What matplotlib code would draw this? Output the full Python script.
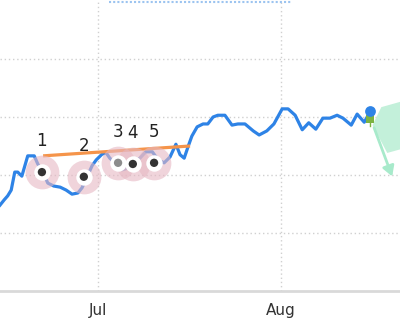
import matplotlib
matplotlib.use("Agg")
import matplotlib.pyplot as plt
from matplotlib.patches import Polygon, FancyArrowPatch

# price series: days since Jul 1 and price
days = [-16.6, -15.9, -15.3, -14.7, -14.1, -13.6, -12.9, -11.9, -10.8, -10.2,
        -9.2, -8.5, -7.5, -6.4, -5.4, -4.4, -3.4, -2.7, -1.7, -1.0,
        -0.3, 0.7, 1.4, 2.0, 3.1, 4.1, 5.1, 6.1, 7.1, 8.1,
        9.2, 10.2, 11.2, 12.2, 13.2, 13.9, 14.6, 15.3, 15.9, 16.8,
        17.8, 18.6, 19.5, 20.3, 21.5, 22.7, 23.7, 24.9, 26.3, 27.3,
        28.6, 29.8, 31.2, 32.2, 33.4, 34.6, 35.7, 36.9, 38.1, 39.3,
        40.5, 41.5, 42.9, 43.9, 45.1, 46.1]
price = [104.8, 105.7, 106.4, 107.4, 110.5, 110.5, 109.8, 113.3, 113.3, 111.9,
         110.2, 108.6, 108.1, 107.9, 107.4, 106.7, 106.9, 107.8, 110.0, 111.6,
         112.6, 113.6, 113.8, 112.9, 111.9, 110.9, 111.2, 112.1, 112.9, 114.0,
         114.0, 112.6, 112.1, 113.1, 115.3, 113.5, 112.9, 115.0, 116.7, 118.3,
         118.8, 118.8, 120.0, 120.3, 120.3, 118.6, 118.8, 118.8, 117.6, 116.9,
         117.6, 118.8, 121.4, 121.4, 120.3, 117.8, 119.0, 117.9, 119.8, 119.8,
         120.3, 119.8, 118.6, 120.5, 119.1, 120.9]

# numbered markers
mark_labels = ["1", "2", "3", "4", "5"]
mark_days = [-9.5, -2.4, 3.4, 5.9, 9.5]
mark_price = [110.5, 109.7, 112.1, 111.9, 112.1]
mark_colors = ["#333333", "#333333", "#8c8c8c", "#333333", "#333333"]

# orange trend line
trend_days = [-9.3, 15.6]
trend_price = [113.3, 115.0]

# last point
last_day = 46.1
last_price = 121.0

# green projection area and arrow
proj_days = [46.5, 48.0, 52.9, 52.9, 49.0]
proj_price = [118.6, 121.7, 123.1, 114.9, 113.8]
arrow_days = [46.6, 50.0]
arrow_price = [118.6, 109.3]

# dotted line at top
top_days = [1.9, 32.9]
top_price = [139.9, 139.9]

grid_y = [100, 110, 120, 130]
tick_days = [0, 31]
tick_labels = ["Jul", "Aug"]

fig = plt.figure(figsize=(4.0, 3.23), dpi=100)
ax = fig.add_axes([0, 32 / 323, 1, 291 / 323])
ax.set_xlim(-16.6, 51.16)
ax.set_ylim(90.0, 140.17)

for g in grid_y:
    ax.axhline(g, color="#d0d0d0", lw=1, ls=(0, (1, 2)), zorder=0)
for t in tick_days:
    ax.axvline(t, color="#d0d0d0", lw=1, ls=(0, (1, 2)), zorder=0)

ax.plot(top_days, top_price, color="#9cc4f0", lw=1.5, ls=(0, (1, 1)), zorder=1)

ax.plot(days, price, color="#2e83e6", lw=2.3, zorder=2)
ax.plot(trend_days, trend_price, color="#f5944a", lw=2.3, zorder=3,
        solid_capstyle="butt")

ax.scatter(mark_days, mark_price, s=590, color="#e6b8c3", alpha=0.6,
           lw=0, zorder=4)
ax.scatter(mark_days, mark_price, s=140, color="white", lw=0, zorder=5)
ax.scatter(mark_days, mark_price, s=36, color=mark_colors, lw=0, zorder=6)
for lab, d, p in zip(mark_labels, mark_days, mark_price):
    ax.annotate(lab, (d, p), xytext=(0, 31), textcoords="offset pixels",
                ha="center", va="center", fontsize=12, color="#222222",
                zorder=7)

ax.add_patch(Polygon(list(zip(proj_days, proj_price)), closed=True,
                     facecolor="#c3f0da", edgecolor="none", zorder=3))
ax.add_patch(FancyArrowPatch((arrow_days[0], arrow_price[0]),
                             (arrow_days[1], arrow_price[1]),
                             arrowstyle="-|>,head_length=6,head_width=3.5",
                             color="#a8eacb", lw=2, zorder=3))

ax.plot([last_day, last_day], [last_price - 2.5, last_price], color="#7cb342",
        lw=1, zorder=7)
ax.scatter([last_day], [last_price - 1.3], s=36, marker="s",
           color="#7cb342", lw=0, zorder=7)
ax.scatter([last_day], [last_price], s=60, color="#2e83e6", lw=0, zorder=8)

ax.set_xticks(tick_days)
ax.set_xticklabels(tick_labels, fontsize=11, color="#333333")
ax.set_yticks([])
ax.tick_params(axis="x", length=0, pad=9)
for side in ["top", "left", "right"]:
    ax.spines[side].set_visible(False)
ax.spines["bottom"].set_color("#d9d9d9")
ax.spines["bottom"].set_linewidth(2)

fig.savefig("out.png", dpi=100)
